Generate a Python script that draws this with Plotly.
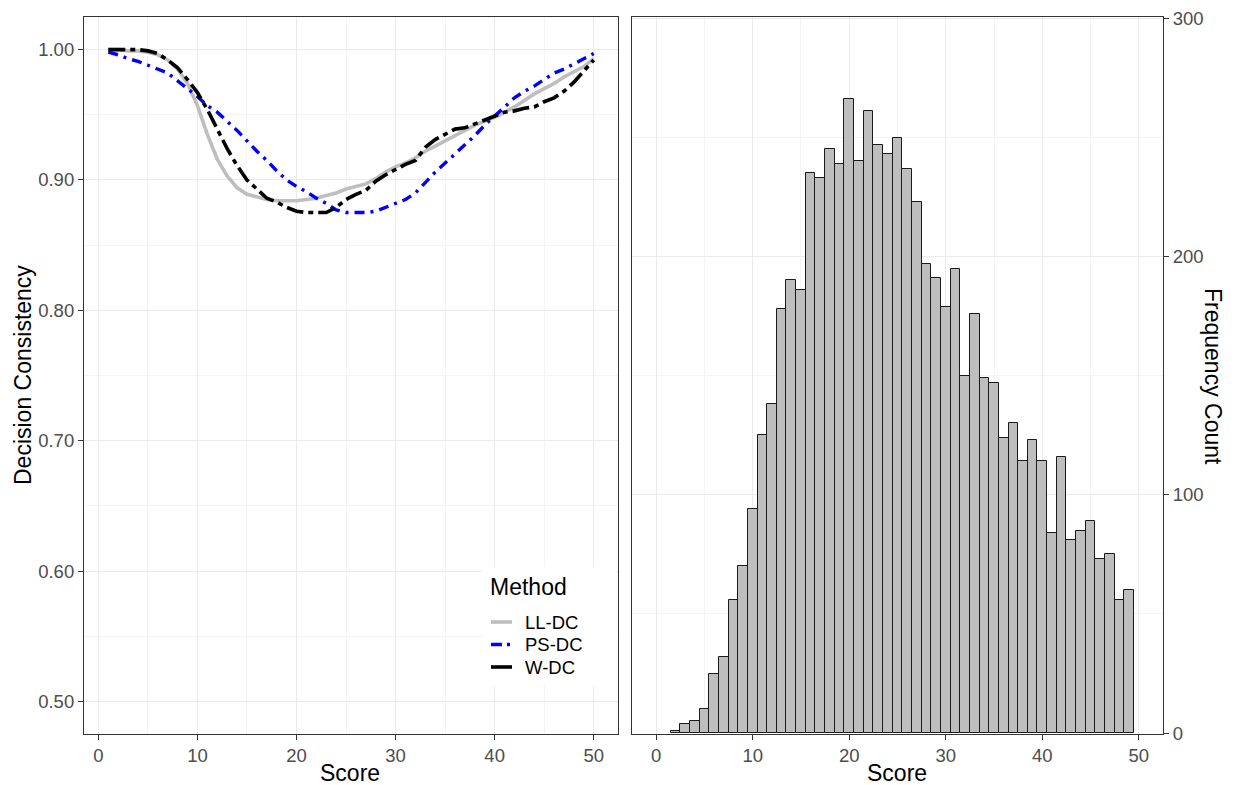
import plotly.graph_objects as go

# ---- data ----
scores = list(range(1, 51))
ll_dc = [1.000, 1.000, 0.999, 0.999, 0.998, 0.996, 0.992, 0.985, 0.974, 0.957,
         0.935, 0.916, 0.903, 0.894, 0.889, 0.887, 0.885, 0.884, 0.884, 0.884,
         0.885, 0.886, 0.888, 0.890, 0.893, 0.895, 0.897, 0.901, 0.906, 0.910,
         0.913, 0.917, 0.922, 0.926, 0.930, 0.934, 0.938, 0.942, 0.945, 0.948,
         0.952, 0.956, 0.961, 0.966, 0.970, 0.974, 0.979, 0.983, 0.987, 0.993]
ps_dc = [0.998, 0.996, 0.993, 0.991, 0.988, 0.985, 0.982, 0.976, 0.970, 0.964,
         0.957, 0.952, 0.945, 0.938, 0.930, 0.922, 0.915, 0.907, 0.900, 0.895,
         0.891, 0.886, 0.882, 0.877, 0.875, 0.875, 0.875, 0.876, 0.879, 0.882,
         0.885, 0.890, 0.898, 0.906, 0.913, 0.920, 0.927, 0.934, 0.942, 0.949,
         0.956, 0.963, 0.968, 0.972, 0.977, 0.982, 0.985, 0.989, 0.993, 0.997]
w_dc = [1.000, 1.000, 1.000, 1.000, 0.999, 0.997, 0.992, 0.986, 0.977, 0.967,
        0.954, 0.939, 0.924, 0.911, 0.900, 0.893, 0.886, 0.883, 0.879, 0.876,
        0.875, 0.875, 0.875, 0.879, 0.885, 0.889, 0.892, 0.899, 0.904, 0.908,
        0.912, 0.915, 0.925, 0.931, 0.935, 0.939, 0.940, 0.943, 0.946, 0.949,
        0.952, 0.953, 0.955, 0.956, 0.960, 0.963, 0.968, 0.975, 0.983, 0.992]

hist_scores = list(range(2, 50))
hist_counts = [1, 4, 5, 10, 25, 32, 56, 70, 94, 125, 138, 178, 190, 186, 235, 233,
               245, 239, 266, 240, 261, 247, 243, 250, 237, 223, 197, 191, 179, 195,
               150, 176, 149, 147, 124, 130, 114, 123, 114, 84, 116, 81, 85, 89,
               73, 75, 56, 60]

methods = ["LL-DC", "PS-DC", "W-DC"]
x_ticks = [0, 10, 20, 30, 40, 50]
y_ticks_left = [0.5, 0.6, 0.7, 0.8, 0.9, 1.0]
y_ticks_right = [0, 100, 200, 300]

# ---- style ----
W, H = 1235, 785
FONT = "Liberation Sans, Arial, sans-serif"
TICK_FONT = dict(family=FONT, size=18.5, color="#4D4D4D")
TITLE_FONT = dict(family=FONT, size=23, color="black")
GRID = "#EBEBEB"
MINOR = "#F4F4F4"
BORDER = "#333333"
styles = {
    "LL-DC": dict(color="#BEBEBE", width=3.6, dash="solid"),
    "PS-DC": dict(color="#0000FF", width=3.4, dash="10px,6px,3px,6px"),
    "W-DC": dict(color="#000000", width=3.6, dash="17px,5px,5px,5px"),
}
key_dash = {"LL-DC": "solid", "PS-DC": "11px,5px,3px,6px", "W-DC": "solid"}

def px(x):
    return x / W

def py(y):
    return 1 - y / H

left_dom = [px(84), px(618)]
right_dom = [px(632), px(1163)]
y_dom = [py(734), py(17)]

fig = go.Figure()

for name, vals in zip(methods, [ll_dc, ps_dc, w_dc]):
    fig.add_trace(go.Scatter(x=scores, y=vals, mode="lines", name=name,
                             line=styles[name], showlegend=False,
                             xaxis="x", yaxis="y"))

fig.add_trace(go.Bar(x=hist_scores, y=hist_counts, width=1, showlegend=False,
                     marker=dict(color="#BEBEBE", line=dict(color="#1A1A1A", width=1)),
                     xaxis="x2", yaxis="y2"))

axis_common = dict(showline=True, mirror=True, linecolor=BORDER, linewidth=1.2,
                   ticks="outside", ticklen=5, tickcolor=BORDER, tickwidth=1,
                   tickfont=TICK_FONT, showgrid=True, gridcolor=GRID, gridwidth=1.1,
                   zeroline=False)

# manual legend (ggplot style) inside the left panel
shapes = [dict(type="rect", xref="paper", yref="paper",
               x0=px(482), x1=px(616.5), y0=py(686), y1=py(567),
               fillcolor="white", line=dict(width=0), layer="above")]
annotations = [dict(text="Method", x=px(488), y=py(587), xref="paper", yref="paper",
                    showarrow=False, font=TITLE_FONT, xanchor="left", yanchor="middle")]
for i, name in enumerate(methods):
    yc = 622 + i * 22.5
    st = styles[name]
    shapes.append(dict(type="line", xref="paper", yref="paper",
                       x0=px(491), x1=px(512), y0=py(yc), y1=py(yc),
                       line=dict(color=st["color"], width=st["width"], dash=key_dash[name]),
                       layer="above"))
    annotations.append(dict(text=name, x=px(523), y=py(yc), xref="paper", yref="paper",
                            showarrow=False, xanchor="left", yanchor="middle",
                            font=dict(family=FONT, size=18.5, color="black")))

annotations += [
    dict(text="Score", x=px(350), y=py(773), xref="paper", yref="paper",
         showarrow=False, font=TITLE_FONT, xanchor="center", yanchor="middle"),
    dict(text="Score", x=px(897), y=py(773), xref="paper", yref="paper",
         showarrow=False, font=TITLE_FONT, xanchor="center", yanchor="middle"),
    dict(text="Decision Consistency", x=px(23), y=py(375), xref="paper",
         yref="paper", showarrow=False, font=TITLE_FONT, textangle=-90,
         xanchor="center", yanchor="middle"),
    dict(text="Frequency Count", x=px(1213), y=py(376), xref="paper",
         yref="paper", showarrow=False, font=TITLE_FONT, textangle=90,
         xanchor="center", yanchor="middle"),
]

fig.update_layout(
    width=W, height=H,
    margin=dict(l=0, r=0, t=0, b=0, autoexpand=False),
    paper_bgcolor="white", plot_bgcolor="white",
    bargap=0, showlegend=False,
    xaxis=dict(domain=left_dom, anchor="y", range=[-1.45, 52.45],
               tickvals=x_ticks,
               minor=dict(tickvals=[5, 15, 25, 35, 45], showgrid=True,
                          gridcolor=MINOR, gridwidth=1, ticks=""),
               **axis_common),
    yaxis=dict(domain=y_dom, anchor="x", range=[0.475, 1.025],
               tickvals=y_ticks_left, tickformat=".2f",
               minor=dict(tickvals=[0.55, 0.65, 0.75, 0.85, 0.95], showgrid=True,
                          gridcolor=MINOR, gridwidth=1, ticks=""),
               **axis_common),
    xaxis2=dict(domain=right_dom, anchor="y2", range=[-2.5, 52.5],
                tickvals=x_ticks,
                minor=dict(tickvals=[5, 15, 25, 35, 45], showgrid=True,
                           gridcolor=MINOR, gridwidth=1, ticks=""),
                **axis_common),
    yaxis2=dict(domain=y_dom, anchor="x2", range=[-0.4, 300.6], side="right",
                tickvals=y_ticks_right,
                minor=dict(tickvals=[50, 150, 250], showgrid=True,
                           gridcolor=MINOR, gridwidth=1, ticks=""),
                **axis_common),
    shapes=shapes,
    annotations=annotations,
)

fig.write_html("out.html")
